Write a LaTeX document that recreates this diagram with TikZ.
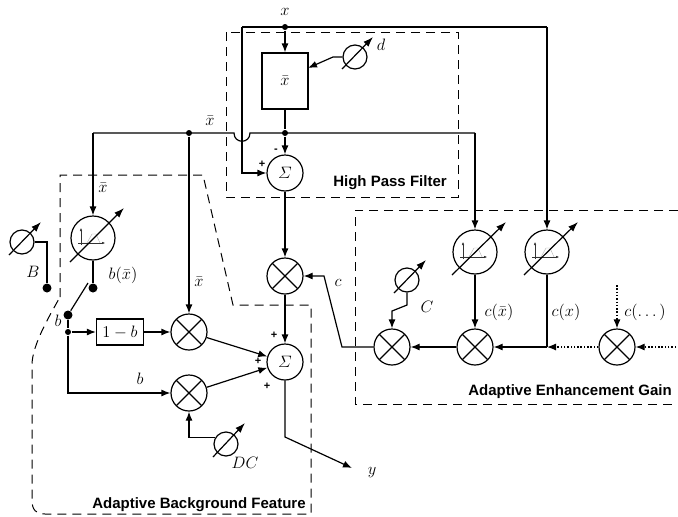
\RequirePackage{fix-cm}
\documentclass[tikz,border=0pt]{standalone}
\usepackage{amsmath}
\usepackage{fontspec}
\usepackage{tikz}
\usetikzlibrary{arrows.meta,positioning}
\newfontfamily\lblfont{Liberation Sans}

\begin{document}
\begin{tikzpicture}[x=1pt, y=-1pt, line width=1.2pt, font=\fontsize{16.5}{18}\selectfont,
			>={Latex[length=9pt,width=7pt]}]
			\tikzstyle{Sum} 	= [circle, draw, minimum size=36pt, inner sep=0pt]
			\tikzstyle{Mult}	= [circle, draw, minimum size=36pt, inner sep=0pt,
				path picture={\draw (path picture bounding box.north west) -- (path picture bounding box.south east)
					(path picture bounding box.north east) -- (path picture bounding box.south west);}]
			\tikzstyle{Gain}	= [circle, draw, minimum size=44pt, inner sep=0pt,
				path picture={\begin{scope}[shift={(path picture bounding box.center)}, line width=0.4pt]
					\draw[gray!60] (-12,5) -- (-6,5) -- (-1,-4) -- (3,-4) -- (7,5) -- (10,5);
					\draw[black!80, -{Latex[length=3pt,width=2.5pt]}] (-12,7) -- (-12,-10);
					\draw[black!80, -{Latex[length=3pt,width=2.5pt]}] (-15,5) -- (12,5);
				\end{scope}}]
			\tikzstyle{Knob}	= [circle, draw, minimum size=24pt, inner sep=0pt]
			\tikzstyle{Block}	= [rectangle, draw, inner sep=0pt]
			\tikzstyle{Dot}		= [circle, fill, minimum size=6pt, inner sep=0pt]
			\tikzstyle{Term}	= [circle, fill, minimum size=9pt, inner sep=0pt]
			\tikzstyle{Region}	= [line width=1pt, dash pattern=on 9pt off 6pt]
			\tikzstyle{Title}	= [font=\lblfont\bfseries\fontsize{15}{17}\selectfont]
			\tikzstyle{Sign}	= [font=\lblfont\bfseries\fontsize{11}{13}\selectfont, inner sep=0pt]
			\tikzstyle{Link}	= [->]
			\tikzstyle{Adj}		= [-{Latex[length=10pt,width=7pt]}]
			\tikzstyle{Loose}	= [->, dash pattern=on 1.5pt off 1.8pt]

			\useasboundingbox (0,0) rectangle (678,517);

			% regions
			\draw [Region] (226,32) rectangle (458,197);
			\draw [Region] (678,210) -- (355,210) -- (355,404) -- (678,404);
			\draw [Region] (60,297) -- (60,175) -- (203,175) -- (233,305) -- (311,305) -- (311,514) -- (45,514)
				.. controls (36,514) and (32,510) .. (32,500) -- (32,365)
				.. controls (32,345) and (50,315) .. (60,297);

			% blocks
			\node (boxxbar) at (285,81) [Block, minimum width=46pt, minimum height=56pt] {$\bar{x}$};
			\node (kd) at (355,57) [Knob] {};
			\node (sum1) at (285,173) [Sum] {$\varSigma$};
			\node (m1) at (285,276) [Mult] {};
			\node (sum2) at (285,362) [Sum] {$\varSigma$};
			\node (gb) at (93,238) [Gain] {};
			\node (kB) at (22,242) [Knob] {};
			\node (m2) at (189,332) [Mult] {};
			\node (m3) at (189,393) [Mult] {};
			\node (boxb) at (120,332) [Block, minimum width=47pt, minimum height=26pt] {$1-b$};
			\node (kDC) at (226,444) [Knob] {};
			\node (gcxb) at (475,252) [Gain] {};
			\node (gcx) at (547,252) [Gain] {};
			\node (kC) at (407,280) [Knob] {};
			\node (mC) at (392,347) [Mult] {};
			\node (mcxb) at (475,347) [Mult] {};
			\node (mdots) at (617,347) [Mult] {};

			% junctions
			\node (xin) at (285,27) [Dot] {};
			\node (hd) at (285,133) [Dot] {};
			\node (xbd) at (189,133) [Dot] {};
			\node (swA) at (93,288) [Term] {};
			\node (swB) at (47,288) [Term] {};
			\node (swC) at (68,315) [Term] {};
			\node (jb) at (68,332) [Dot] {};

			\coordinate (tl) at (242,27);
			\coordinate (tr) at (547,27);
			\coordinate (xbl) at (93,133);
			\coordinate (xbr) at (475,133);
			\coordinate (hopL) at (234,133);
			\coordinate (hopR) at (250,133);
			\coordinate (dKnee) at (333,57);
			\coordinate (dIn) at (308,68);
			\coordinate (yKnee) at (285,437);
			\coordinate (yOut) at (352,468);
			\coordinate (swTip) at (88,283);
			\coordinate (jcx) at (547,347);
			\coordinate (cIn) at (676,347);
			\coordinate (cdots) at (617,285);
			\coordinate (cKnee) at (342,347);
			\coordinate (cUp) at (324,276);
			\coordinate (kCa) at (407,305);
			\coordinate (kCb) at (392,311);

			% high pass filter
			\draw (tl) -- (tr);
			\draw [Link] (tl) |- (sum1.west);
			\draw [Link] (tr) -- (gcx.north);
			\draw [Link] (xin) -- (boxxbar.north);
			\draw [Link] (kd.west) -- (dKnee) -- (dIn);
			\draw (boxxbar.south) -- (hd);
			\draw [Link] (hd) -- (sum1.north);
			\draw (xbl) -- (hopL) .. controls +(0,11) and +(0,11) .. (hopR) -- (xbr);
			\draw [Link] (sum1) -- (m1);
			\draw [Link] (m1) -- (sum2);
			\draw [Link] (sum2.south) -- (yKnee) -- (yOut);

			% background feature
			\draw [Link] (xbl) -- (gb.north);
			\draw [Link] (xbd) -- (m2.north);
			\draw (kB.east) -| (swB);
			\draw (gb.south) -- (swA);
			\draw (swC) -- (swTip);
			\draw (swC) -- (jb);
			\draw [Link] (jb) -- (boxb.west);
			\draw [Link] (boxb) -- (m2);
			\draw [Link] (jb) |- (m3.west);
			\draw [Link] (m2) -- (sum2);
			\draw [Link] (m3) -- (sum2);
			\draw [Link] (kDC.150) -| (m3.south);

			% enhancement gain
			\draw [Link] (xbr) -- (gcxb.north);
			\draw [Loose] (cIn) -- (mdots.east);
			\draw [Loose] (mdots.west) -- (jcx);
			\draw [Loose] (cdots) -- (mdots.north);
			\draw (gcx.south) -- (jcx);
			\draw [Link] (jcx) -- (mcxb.east);
			\draw [Link] (gcxb) -- (mcxb);
			\draw [Link] (mcxb) -- (mC);
			\draw [Link] (kC.south) -- (kCa) -- (kCb) -- (mC.north);
			\draw [Link] (mC.west) -- (cKnee) -- (cUp) -- (m1.east);

			% adjusters
			\draw [Adj] ([shift={(-13,12)}]kd.center) -- ([shift={(18,-20)}]kd.center);
			\draw [Adj] ([shift={(-13,13)}]kB.center) -- ([shift={(19,-20)}]kB.center);
			\draw [Adj] ([shift={(-13,13)}]kDC.center) -- ([shift={(19,-21)}]kDC.center);
			\draw [Adj] ([shift={(-13,13)}]kC.center) -- ([shift={(19,-20)}]kC.center);
			\draw [Adj] ([shift={(-23,24)}]gb.center) -- ([shift={(31,-30)}]gb.center);
			\draw [Adj] ([shift={(-23,23)}]gcxb.center) -- ([shift={(31,-30)}]gcxb.center);
			\draw [Adj] ([shift={(-23,23)}]gcx.center) -- ([shift={(31,-30)}]gcx.center);

			% labels
			\node (lx) at (285,12) {$x$};
			\node (ld) at (381,45) {$d$};
			\node (lxb1) at (210,121) {$\bar{x}$};
			\node (lxb2) at (103,188) {$\bar{x}$};
			\node (lxb3) at (199,282) {$\bar{x}$};
			\node (lB) at (33,272) {$B$};
			\node (lbx) at (123,275) {$b(\bar{x})$};
			\node (lb1) at (58,321) {$b$};
			\node (lb2) at (140,379) {$b$};
			\node (lDC) at (245,463) {$DC$};
			\node (ly) at (372,473) {$y$};
			\node (lc) at (338,283) {$c$};
			\node (lC) at (427,307) {$C$};
			\node (lcxb) at (499,312) {$c(\bar{x})$};
			\node (lcx) at (566,312) {$c(x)$};
			\node (lcd) at (645,312) {$c(\dots)$};
			\node [Sign] (sp1) at (262,164) {+};
			\node [Sign] (sm1) at (276,151) {-};
			\node [Sign] (sp2) at (274,335) {+};
			\node [Sign] (sp3) at (258,361) {+};
			\node [Sign] (sp4) at (267,386) {+};
			\node [Title] (tHPF) at (390,183) {High Pass Filter};
			\node [Title] (tAEG) at (570,392) {Adaptive Enhancement Gain};
			\node [Title] (tABF) at (199,505) {Adaptive Background Feature};
		\end{tikzpicture}
\end{document}
